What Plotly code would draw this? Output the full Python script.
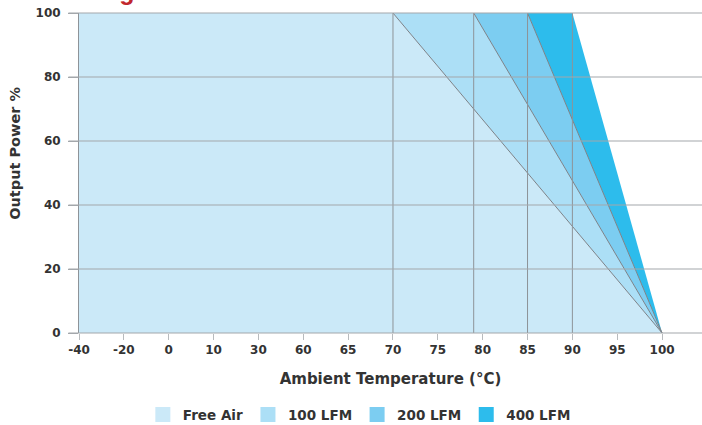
import numpy as np
import plotly.graph_objects as go

# ---- data ----
tick_temps = [-40, -20, 0, 10, 30, 60, 65, 70, 75, 80, 85, 90, 95, 100]
power_ticks = [0, 20, 40, 60, 80, 100]
series_names = ["Free Air", "100 LFM", "200 LFM", "400 LFM"]
derate_start = [70, 79, 85, 90]      # °C where full power ends
zero_power_temp = 100                # °C where output reaches 0 %
series_colors = ["#cbe9f8", "#acdff6", "#7ccdf1", "#2dbcec"]

# axis is laid out with evenly spaced (non-linear) temperature labels
def pos(t):
    return float(np.interp(t, tick_temps, list(range(len(tick_temps)))))

grid_col = "#8e9398"
font_fam = "DejaVu Sans, Arial, sans-serif"
title_fam = "Liberation Sans, Arial, sans-serif"

fig = go.Figure()

for i, name in enumerate(series_names):
    if i == 0:
        xs = [tick_temps[0], tick_temps[0], derate_start[0], zero_power_temp]
        ys = [0, 100, 100, 0]
    else:
        xs = [derate_start[i - 1], derate_start[i], zero_power_temp]
        ys = [100, 100, 0]
    fig.add_trace(go.Scatter(
        x=[pos(t) for t in xs], y=ys, mode="lines", fill="toself",
        fillcolor=series_colors[i], line=dict(width=0), showlegend=False,
        hoverinfo="skip"))

# boundary diagonal lines
for i in range(3):
    fig.add_trace(go.Scatter(
        x=[pos(derate_start[i]), pos(zero_power_temp)], y=[100, 0],
        mode="lines", line=dict(color="#7d8288", width=1), showlegend=False,
        hoverinfo="skip"))

# legend entries
for i, name in enumerate(series_names):
    fig.add_trace(go.Scatter(
        x=[None], y=[None], mode="markers", name=f"<b>{name}</b>",
        marker=dict(symbol="square", size=15, color=series_colors[i])))

ymax = power_ticks[-1]
shapes = []
for t in derate_start:
    shapes.append(dict(type="line", xref="x", yref="paper", x0=pos(t), x1=pos(t),
                       y0=0, y1=1, line=dict(color=grid_col, width=1), layer="above"))
for v in power_ticks:
    shapes.append(dict(type="line", xref="paper", yref="paper", x0=-0.017, x1=1,
                       y0=v / ymax, y1=v / ymax,
                       line=dict(color="#a3a7ab", width=1), layer="above"))

annotations = [
    dict(text="<b>Derating Curve</b>", xref="paper", yref="paper", x=-0.0754, y=1,
         xanchor="left", yanchor="bottom", yshift=7, showarrow=False,
         font=dict(family=title_fam, size=25, color="#c1272d"), borderpad=0),
    dict(text="<b>Output Power %</b>", xref="paper", yref="paper",
         x=-0.1027, y=0.56, xanchor="center", yanchor="middle", textangle=-90,
         showarrow=False, font=dict(family=font_fam, size=14.5, color="#333333")),
]

fig.update_layout(
    width=702, height=425,
    margin=dict(l=79, r=0, t=13, b=92, autoexpand=False),
    paper_bgcolor="white", plot_bgcolor="white",
    font=dict(family=font_fam),
    xaxis=dict(range=[0, 13.89], tickmode="array",
               tickvals=[pos(t) for t in tick_temps],
               ticktext=[f"<b>{t}</b>" for t in tick_temps],
               ticks="outside", ticklen=6, tickcolor="#b8bbbe",
               ticklabeloverflow="allow",
               showgrid=False, zeroline=False, showline=False, automargin=False,
               tickfont=dict(size=12, color="#333333"),
               title=dict(text="<b>Ambient Temperature (°C)</b>", standoff=17,
                          font=dict(size=15, color="#333333"))),
    yaxis=dict(range=[0, ymax], tickmode="array", tickvals=power_ticks,
               ticktext=[f"<b>{v}</b>" for v in power_ticks],
               ticks="outside", ticklen=10, tickcolor="#a3a7ab",
               ticklabelstandoff=5, automargin=False, ticklabeloverflow="allow",
               showgrid=False, zeroline=False, showline=True,
               linecolor="#8e9398", linewidth=1, layer="above traces",
               tickfont=dict(size=12, color="#333333")),
    shapes=shapes, annotations=annotations,
    legend=dict(orientation="h", x=0.45, xanchor="center",
                yref="container", y=0.024, yanchor="middle",
                font=dict(size=13.5, color="#333333", family=font_fam),
                itemwidth=30, bgcolor="rgba(0,0,0,0)"),
    showlegend=True,
)

fig.write_html("out.html",
               config={"displayModeBar": False},
               post_script="document.body.style.margin='0';")
